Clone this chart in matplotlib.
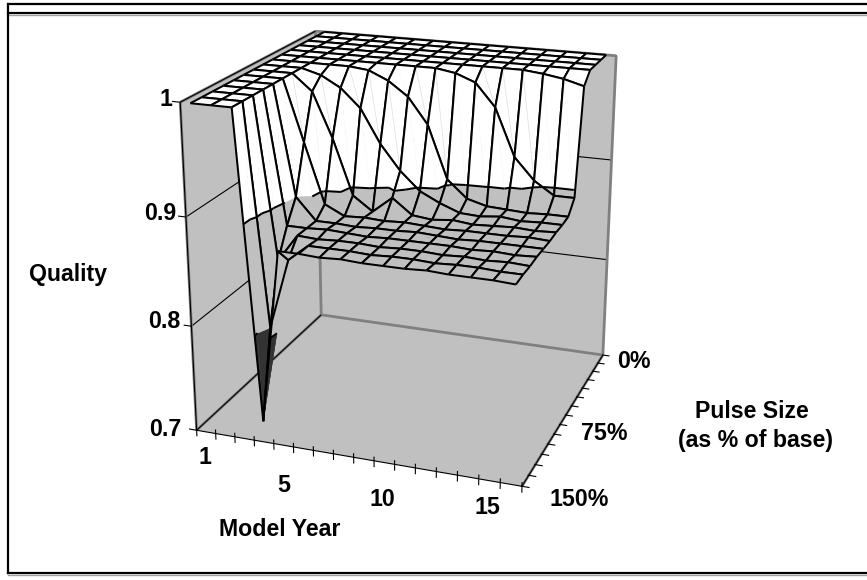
import numpy as np
import matplotlib
matplotlib.use('Agg')
import matplotlib.pyplot as plt
from matplotlib.lines import Line2D
from mpl_toolkits.mplot3d.art3d import Poly3DCollection, Line3DCollection

plt.rcParams['font.family'] = ['Liberation Sans', 'DejaVu Sans']

W, H = 867, 580

years = list(range(1, 17))
year_labels = {1: '1', 5: '5', 10: '10', 15: '15'}
pulse_rows = list(range(15))   # 0% at the back, 150% at the front
z_ticks = [0.7, 0.8, 0.9, 1.0]
z_tick_labels = ['0.7', '0.8', '0.9', '1']

# quality, one list per pulse size row, one value per model year
quality = [
    [1, 1, 1, 1, 1, 1, 1, 1, 1, 1, 1, 1, 1, 1, 1, 1],
    [1, 1, 1, 1, 1, 1, 1, 1, 1, 1, 1, 1, 1, 1, 1, 1],
    [1, 1, 1, 1, 1, 1, 1, 1, 1, 1, 1, 1, 1, 1, 1, 1],
    [1, 1, 1, 1, 1, 1, 1, 1, 1, 1, 1, 1, 1, 1, 1, 1],
    [1, 1, 1, 1, 1, 1, 1, 1, 1, 1, 1, 1, 1, .998, .995, .99],
    [1, 1, 1, 1, 1, 1, 1, 1, 1, .997, .99, .969, .925, .905, .893, .893],
    [1, 1, 1, 1, 1, .998, .99, .977, .953, .904, .888, .883, .882, .881, .882, .882],
    [1, 1, 1, .995, .985, .968, .937, .914, .897, .888, .881, .88, .882, .88, .881, .881],
    [1, 1, 1, .985, .944, .893, .88, .895, .881, .879, .881, .879, .88, .881, .88, .881],
    [1, 1, 1, .944, .889, .88, .881, .88, .881, .88, .879, .88, .88, .88, .881, .88],
    [1, 1, 1, .90, .88, .88, .879, .88, .88, .881, .88, .879, .88, .88, .88, .88],
    [1, 1, 1, .88, .88, .881, .88, .879, .88, .88, .88, .88, .879, .88, .879, .88],
    [1, 1, 1, .855, .88, .879, .88, .88, .879, .88, .88, .879, .88, .879, .88, .879],
    [1, 1, 1, .80, .865, .88, .88, .88, .879, .88, .88, .879, .88, .88, .879, .879],
    [1, 1, 1, .72, .88, .88, .879, .88, .879, .879, .879, .88, .879, .879, .879, .878],
]

bands = [(0.6, 0.8, '#333333'), (0.8, 0.9, '#c0c0c0'), (0.9, 1.01, '#ffffff')]


def clip_z(poly, low, high):
    """Cut a polygon down to the part between two heights"""
    for level, keep_above in ((low, True), (high, False)):
        out = []
        for k in range(len(poly)):
            a, b = poly[k], poly[(k + 1) % len(poly)]
            a_in = a[2] >= level if keep_above else a[2] <= level
            b_in = b[2] >= level if keep_above else b[2] <= level
            if a_in:
                out.append(a)
            if a_in != b_in:
                t = (level - a[2]) / (b[2] - a[2])
                out.append(a + t * (b - a))
        poly = out
        if len(poly) < 3:
            return []
    return poly


def contour_segment(tri, level):
    """Where a triangle crosses one height"""
    found = []
    for k in range(3):
        a, b = tri[k], tri[(k + 1) % 3]
        if (a[2] - level) * (b[2] - level) < 0:
            t = (level - a[2]) / (b[2] - a[2])
            found.append(a + t * (b - a))
    return found if len(found) == 2 else None


fig = plt.figure(figsize=(W / 100, H / 100), dpi=100)
ax = fig.add_axes([0.12901, 0.07251, 0.66984, 1.00129], projection='3d', computed_zorder=False)
ax.set_proj_type('persp', focal_length=0.51495)
ax.view_init(19.953, -70.009)
ax.set_box_aspect((1.05845, 0.99858, 1.0595), zoom=0.94454)
x0, x1 = years[0] - 0.5, years[-1] + 0.5
y_front, y_back = pulse_rows[-1], pulse_rows[0]
z0, z1 = z_ticks[0], z_ticks[-1]
ax.set_xlim3d(x0, x1)
ax.set_ylim3d(y_front, y_back)
ax.set_zlim3d(z0, z1)
ax.set_axis_off()
ax.patch.set_alpha(0)

# Walls and floor
wall_gray = '#c0c0c0'
edge_gray = '#808080'
walls = [
    [(x0, y_front, z0), (x0, y_back, z0), (x0, y_back, z1), (x0, y_front, z1)],
    [(x0, y_back, z0), (x1, y_back, z0), (x1, y_back, z1), (x0, y_back, z1)],
    [(x0, y_front, z0), (x1, y_front, z0), (x1, y_back, z0), (x0, y_back, z0)],
]
ax.add_collection3d(Poly3DCollection(walls, facecolors=wall_gray, edgecolors='none', zorder=1))

# Gridlines on the walls
for z in z_ticks[1:]:
    ax.plot([x0, x0, x1], [y_front, y_back, y_back], [z, z, z], color='black', lw=0.8, zorder=2)

# Wall edges
gray_edges = [
    [(x0, y_back, z0), (x0, y_back, z1)],
    [(x0, y_back, z0), (x1, y_back, z0)],
    [(x1, y_back, z0), (x1, y_back, z1)],
    [(x0, y_front, z0), (x0, y_front, z1)],
    [(x0, y_back, z1), (x1, y_back, z1)],
    [(x0, y_front, z1), (x0, y_back, z1)],
    [(x0, y_front, z0), (x0, y_back, z0)],
    [(x1, y_front, z0), (x1, y_back, z0)],
]
ax.add_collection3d(Line3DCollection(gray_edges, colors=edge_gray, linewidths=2, zorder=3))
black_edges = [
    [(x0, y_front, z0), (x1, y_front, z0)],
    [(x1, y_front, z0), (x1, y_back, z0)],
    [(x0, y_front, z0), (x0, y_back, z0)],
    [(x0, y_front, z0), (x0, y_front, z1)],
    [(x0, y_front, z1), (x0, y_back, z1)],
]
ax.add_collection3d(Line3DCollection(black_edges, colors='black', linewidths=0.8, zorder=4))

# Tick marks
ticks = []
for k in range(len(years) + 1):
    ticks.append([(x0 + k, y_front, z0 + 0.004), (x0 + k, y_front, z0 - 0.006)])
for row in pulse_rows:
    ticks.append([(x1 - 0.05, row, z0), (x1 + 0.35, row, z0)])
for z in z_ticks:
    ticks.append([(x0, y_front, z), (x0 - 0.4, y_front, z)])
ax.add_collection3d(Line3DCollection(ticks, colors='black', linewidths=0.8, zorder=5))

# Surface, back rows first so nearer cells cover the ones behind
order = 10
for r in range(len(pulse_rows) - 1):
    for c in range(len(years) - 1):
        corners = np.array([
            [years[c], pulse_rows[r], quality[r][c]],
            [years[c + 1], pulse_rows[r], quality[r][c + 1]],
            [years[c + 1], pulse_rows[r + 1], quality[r + 1][c + 1]],
            [years[c], pulse_rows[r + 1], quality[r + 1][c]],
        ], dtype=float)
        # split each cell along the diagonal through its lowest corner
        low_corner = np.argmin(corners[:, 2])
        a, b = (1, 3) if low_corner in (1, 3) else (0, 2)
        other = [k for k in range(4) if k not in (a, b)]
        tris = [corners[[a, other[0], b]], corners[[a, b, other[1]]]]
        polys, colors, contours = [], [], []
        for tri in tris:
            for low, high, color in bands:
                piece = clip_z(list(tri), low, high)
                if piece:
                    polys.append(np.array(piece))
                    colors.append(color)
            for level in (0.8, 0.9):
                seg = contour_segment(tri, level)
                if seg:
                    contours.append(seg)
        order += 1
        ax.add_collection3d(Poly3DCollection(polys, facecolors=colors, edgecolors=colors,
                                             linewidths=0.3, zorder=order))
        # faint seam across the steep cells
        order += 1
        if max(corners[:, 2]) - min(corners[:, 2]) > 0.03 and corners[a, 2] > 0.9 and corners[b, 2] > 0.9:
            ax.plot(corners[[a, b], 0], corners[[a, b], 1], corners[[a, b], 2],
                    color='#e4e4e4', lw=0.6, zorder=order)
        order += 1
        outline = [[corners[k], corners[(k + 1) % 4]] for k in range(4)] + contours
        ax.add_collection3d(Line3DCollection(outline, colors='black', linewidths=1.45, zorder=order))


def label(x, y, text, ha='center'):
    fig.text(x / W, 1 - y / H, text, ha=ha, va='center', fontsize=16.7, fontweight='bold', color='black')


# Tick labels and axis titles
for z, text, x, y in zip(z_ticks, z_tick_labels, [181, 180, 176, 172], [430, 322, 214, 100]):
    label(x, y, text, ha='right')
for year, x, y in zip(year_labels, [205, 284, 382, 487], [458, 486, 500, 507]):
    label(x, y, year_labels[year])
for text, x, y in zip(['0%', '75%', '150%'], [634, 604, 579], [361, 433, 500]):
    label(x, y, text)
label(68, 275, 'Quality')
label(280, 529, 'Model Year')
label(752, 411, 'Pulse Size')
label(756, 441, '(as % of base)')

# Frame round the picture
frame = [
    ([8, W], [4, 4], 'black', 1.6),
    ([8, W], [15, 15], '#a0a0a0', 1.0),
    ([8, W], [13, 13], 'black', 1.6),
    ([8, 8], [4, 573], 'black', 1.6),
    ([8, W], [575, 575], '#a0a0a0', 1.0),
    ([8, W], [573, 573], 'black', 1.6),
]
for xs, ys, color, lw in frame:
    fig.add_artist(Line2D([x / W for x in xs], [1 - y / H for y in ys], color=color, lw=lw))

fig.savefig('out.png', dpi=100)
